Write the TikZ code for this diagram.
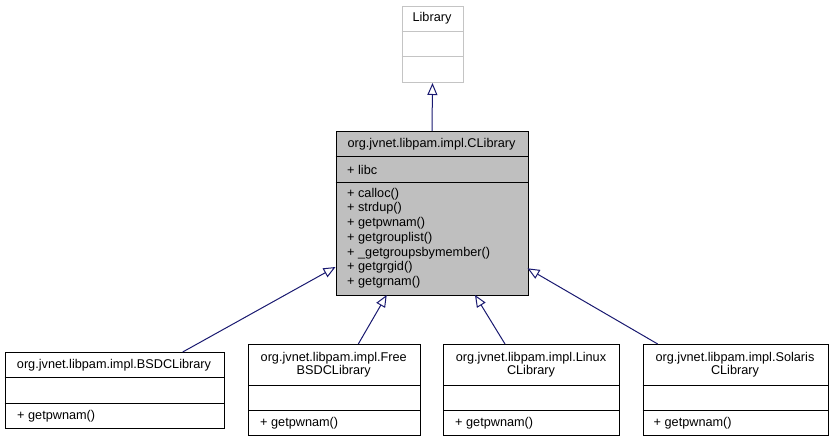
\documentclass[tikz,border=0pt]{standalone}
\usepackage{fontspec}
\setmainfont{Liberation Sans}
\usetikzlibrary{arrows.meta,calc}
\definecolor{edgeblue}{HTML}{191970}
\definecolor{boxgray}{HTML}{BFBFBF}
\definecolor{libline}{HTML}{C4C4C4}
\tikzset{
  cls/.style={draw=black, line width=1pt, inner sep=0pt, anchor=north west, fill=white},
  txt/.style={inner sep=0pt, font=\fontsize{12.7}{13}\selectfont, text=black},
  mem/.style={txt, anchor=west},
  inh/.style={draw=edgeblue, line width=1pt, -{Triangle[length=12pt,width=10pt,fill=white]}},
}
\begin{document}
\begin{tikzpicture}[x=1pt,y=-1pt]
\useasboundingbox (0,0) rectangle (832,441);
% Library
\node[cls, draw=libline, minimum width=61pt, minimum height=76pt] (lib) at (401.5,6) {};
\draw[libline, line width=1pt] (401.5,31.7) -- (462.5,31.7) (401.5,56.7) -- (462.5,56.7);
\node[txt] (libt) at (432,18.5) {Library};
% CLibrary
\node[cls, fill=boxgray, minimum width=192pt, minimum height=164pt] (clib) at (335.5,131) {};
\draw[line width=1pt] (335.5,156.7) -- (527.5,156.7) (335.5,182.3) -- (527.5,182.3);
\node[txt] (clibt) at (431.5,144) {org.jvnet.libpam.impl.CLibrary};
\node[mem] (libc) at (347,169.5) {+ libc};
\node[mem] (m1) at (347,194) {+ calloc()};
\node[mem] (m2) at (347,208.7) {+ strdup()};
\node[mem] (m3) at (347,223.4) {+ getpwnam()};
\node[mem] (m4) at (347,238.1) {+ getgrouplist()};
\node[mem] (m5) at (347,252.8) {+ \_getgroupsbymember()};
\node[mem] (m6) at (347,267.5) {+ getgrgid()};
\node[mem] (m7) at (347,282.2) {+ getgrnam()};
% BSDCLibrary
\node[cls, minimum width=219pt, minimum height=76pt] (bsd) at (4.5,352) {};
\draw[line width=1pt] (4.5,377.5) -- (223.5,377.5) (4.5,403.5) -- (223.5,403.5);
\node[txt] (bsdt) at (114,365) {org.jvnet.libpam.impl.BSDCLibrary};
\node[mem] (bsdm) at (17,416) {+ getpwnam()};
% FreeBSDCLibrary
\node[cls, minimum width=171.5pt, minimum height=91pt] (free) at (248,344) {};
\draw[line width=1pt] (248,385) -- (419.5,385) (248,410) -- (419.5,410);
\node[txt] (freet1) at (333.75,358) {org.jvnet.libpam.impl.Free};
\node[txt] (freet2) at (333.75,371) {BSDCLibrary};
\node[mem] (freem) at (260,423) {+ getpwnam()};
% LinuxCLibrary
\node[cls, minimum width=176pt, minimum height=91pt] (linux) at (443,344) {};
\draw[line width=1pt] (443,385) -- (619,385) (443,410) -- (619,410);
\node[txt] (linuxt1) at (531,358) {org.jvnet.libpam.impl.Linux};
\node[txt] (linuxt2) at (531,371) {CLibrary};
\node[mem] (linuxm) at (455,423) {+ getpwnam()};
% SolarisCLibrary
\node[cls, minimum width=185pt, minimum height=91pt] (sol) at (642.5,344) {};
\draw[line width=1pt] (642.5,385) -- (827.5,385) (642.5,410) -- (827.5,410);
\node[txt] (solt1) at (735,358) {org.jvnet.libpam.impl.Solaris};
\node[txt] (solt2) at (735,371) {CLibrary};
\node[mem] (solm) at (653.5,423) {+ getpwnam()};
% connector ends
\coordinate (libB) at (lib.south);
\coordinate (clibT) at (clib.north);
\coordinate (bsdT) at (182.7,352);
\coordinate (clibL) at (335.5,267);
\coordinate (freeT) at (358.3,344);
\coordinate (clibB1) at (386.7,295);
\coordinate (linuxT) at (505,344);
\coordinate (clibB2) at (475,295);
\coordinate (solT) at (657.7,344);
\coordinate (clibR) at (527.5,268.3);
\draw[inh] (clibT) -- (libB);
\draw[inh] (bsdT) -- (clibL);
\draw[inh] (freeT) -- (clibB1);
\draw[inh] (linuxT) -- (clibB2);
\draw[inh] (solT) -- (clibR);
\end{tikzpicture}
\end{document}
